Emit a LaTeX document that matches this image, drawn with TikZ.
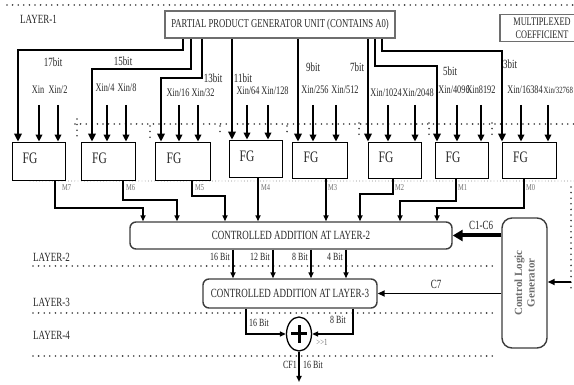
\documentclass[tikz,border=0pt]{standalone}
\usepackage{fontspec}
\setmainfont{Liberation Serif}[FakeStretch=0.72]
\newfontfamily\plainserif{Liberation Serif}
\usetikzlibrary{arrows.meta,shapes.geometric}
\definecolor{txt}{HTML}{262626}
\definecolor{dotc}{HTML}{3C3C3C}
\definecolor{lgray}{HTML}{6E6E6E}
\begin{document}
\begin{tikzpicture}[x=1pt,y=-1pt,
  every node/.style={text=txt, inner sep=0pt},
  dotline/.style={line width=1.8pt, dash pattern=on 0pt off 5.6pt, line cap=round, color=dotc},
  thindot/.style={line width=0.9pt, dash pattern=on 0pt off 3.2pt, line cap=round, color=lgray},
  bigline/.style={line width=2.9pt, -{Triangle[length=8pt,width=7.5pt]}},
  smallarr/.style={line width=2.3pt, -{Triangle[length=7pt,width=6.5pt]}},
  marr/.style={line width=1.5pt, -{Triangle[length=6pt,width=5pt]}},
  ppgbox/.style={draw=lgray, line width=1.8pt, font=\fontsize{12}{13}\selectfont},
  fgbox/.style={draw=black, line width=0.8pt, fill=white},
  fgtxt/.style={font=\fontsize{16}{17}\selectfont},
  addbox/.style={draw=dotc, line width=1.4pt, rounded corners=6pt, font=\fontsize{12.5}{13}\selectfont},
  layer/.style={anchor=west, font=\fontsize{12.5}{13}\selectfont},
  bitlbl/.style={font=\fontsize{12.5}{13}\selectfont},
  xinlbl/.style={font=\fontsize{11.5}{12}\selectfont},
  mlbl/.style={anchor=west, text=lgray, font=\fontsize{9}{10}\selectfont},
  blbl/.style={anchor=east, font=\fontsize{11}{12}\selectfont},
]
\useasboundingbox (0,0) rectangle (574,385);

% ---------- dotted layer lines ----------
\draw[dotline] (7,5) -- (574,5);
\draw[dotline] (75,124) -- (574,124);
\foreach \xx/\ya/\yb in {77/119/140,150/126/138,220/126/136,287/126/136,359/123/137,429/123/137,492/123/137}
  \draw[dotline] (\xx,\ya) -- (\xx,\yb);
\draw[thindot] (30,181) -- (574,181);
\draw[dotline] (33,266) -- (497,266);
\draw[dotline] (33,313) -- (497,313);
\draw[dotline] (33,356) -- (497,356);
\draw[dotline] (571,187) -- (571,290);

% ---------- layer labels ----------
\node[layer] (l1) at (20,19) {LAYER-1};
\node[layer] (l2) at (33,257) {LAYER-2};
\node[layer] (l3) at (33,302) {LAYER-3};
\node[layer] (l4) at (33,335) {LAYER-4};

% ---------- top boxes ----------
\node[ppgbox, minimum width=230pt, minimum height=27pt] (ppg) at (280,24.5) {PARTIAL PRODUCT GENERATOR UNIT (CONTAINS A0)};
\node[draw=lgray, line width=1.8pt, minimum width=90pt, minimum height=27pt] (mc) at (545,28) {};
\node[align=center, font=\fontsize{11.5}{13}\selectfont] (mct) at (542,28) {MULTIPLEXED\\COEFFICIENT};

% ---------- FG boxes ----------
\node[fgbox, minimum width=53pt, minimum height=38pt] (fg1) at (38.5,161) {};
\node[fgbox, minimum width=54pt, minimum height=38pt] (fg2) at (108,161) {};
\node[fgbox, minimum width=55pt, minimum height=38pt] (fg3) at (182.5,161) {};
\node[fgbox, minimum width=53pt, minimum height=37pt] (fg4) at (255.5,158.5) {};
\node[fgbox, minimum width=55pt, minimum height=36pt] (fg5) at (319.5,160) {};
\node[fgbox, minimum width=53pt, minimum height=36pt] (fg6) at (394.5,160) {};
\node[fgbox, minimum width=53pt, minimum height=36pt] (fg7) at (461.5,160) {};
\node[fgbox, minimum width=54pt, minimum height=36pt] (fg8) at (529,160) {};
\foreach \i in {1,...,8}
  \node[fgtxt] (fgt\i) at ([xshift=-8.5pt,yshift=2.5pt]fg\i.center) {FG};

% ---------- lines from the partial product generator ----------
\draw[bigline] (183,0 |- ppg.south) -- (183,50) -| (18,0 |- fg1.north);
\draw[bigline] (191,0 |- ppg.south) -- (191,69) -| (92,0 |- fg2.north);
\draw[bigline] (202,0 |- ppg.south) -- (202,78) -| (161,0 |- fg3.north);
\draw[bigline] (232,0 |- ppg.south) -- (232,0 |- fg4.north);
\draw[bigline] (298,0 |- ppg.south) -- (298,0 |- fg5.north);
\draw[bigline] (368,0 |- ppg.south) -- (368,0 |- fg6.north);
\draw[bigline] (375,0 |- ppg.south) -- (375,66) -| (437,0 |- fg7.north);
\draw[bigline] (382,0 |- ppg.south) -- (382,51) -| (502,0 |- fg8.north);

\node[bitlbl] (b17) at (53,62) {17bit};
\node[bitlbl] (b15) at (123,61) {15bit};
\node[bitlbl] (b13) at (213,78) {13bit};
\node[bitlbl] (b11) at (243,78) {11bit};
\node[bitlbl] (b9) at (313,67) {9bit};
\node[bitlbl] (b7) at (357,67) {7bit};
\node[bitlbl] (b5) at (450,71) {5bit};
\node[bitlbl] (b3) at (510,64) {3bit};

% ---------- Xin inputs ----------
\node[xinlbl] (x1a) at (38,90) {Xin};
\node[xinlbl] (x1b) at (58,90) {Xin/2};
\node[xinlbl] (x2a) at (105,88) {Xin/4};
\node[xinlbl] (x2b) at (127,88) {Xin/8};
\node[xinlbl] (x3a) at (178,93) {Xin/16};
\node[xinlbl] (x3b) at (203,93) {Xin/32};
\node[xinlbl] (x4a) at (248,91) {Xin/64};
\node[xinlbl] (x4b) at (275,91) {Xin/128};
\node[xinlbl] (x5a) at (315,90) {Xin/256};
\node[xinlbl] (x5b) at (345,90) {Xin/512};
\node[xinlbl] (x6a) at (386,93) {Xin/1024};
\node[xinlbl] (x6b) at (418,93) {Xin/2048};
\node[xinlbl] (x7a) at (454,90) {Xin/4096};
\node[xinlbl] (x7b) at (481,90) {Xin8192};
\node[xinlbl] (x8a) at (525,90) {Xin/16384};
\node[anchor=west, font=\fontsize{9.5}{11}\selectfont] (x8b) at (543.5,90) {Xin/32768};

\foreach \xx/\k in {39/1,58/1,107/2,126/2,179/3,198/3,247/4,268/4,313/5,336/5,388/6,415/6,457/7,481/7,521/8,548/8}
  \draw[smallarr] (\xx,105) -- (\xx,0 |- fg\k.north);

% ---------- addition layer 2 ----------
\node[addbox, minimum width=322pt, minimum height=27pt] (add2) at (291,235.5) {CONTROLLED ADDITION AT LAYER-2};

\draw[marr] (55,0 |- fg1.south) -- (55,208) -| (143,0 |- add2.north);
\draw[marr] (123,0 |- fg2.south) -- (123,200) -| (177,0 |- add2.north);
\draw[marr] (192,0 |- fg3.south) -- (192,196) -| (225,0 |- add2.north);
\draw[marr] (258,0 |- fg4.south) -- (258,0 |- add2.north);
\draw[marr] (326,0 |- fg5.south) -- (326,0 |- add2.north);
\draw[marr] (393,0 |- fg6.south) -- (393,194) -| (360,0 |- add2.north);
\draw[marr] (456,0 |- fg7.south) -- (456,201) -| (400,0 |- add2.north);
\draw[marr] (524,0 |- fg8.south) -- (524,208) -| (437,0 |- add2.north);

\node[mlbl] (m7) at (62,188) {M7};
\node[mlbl] (m6) at (126,188) {M6};
\node[mlbl] (m5) at (195,188) {M5};
\node[mlbl] (m4) at (261,188) {M4};
\node[mlbl] (m3) at (328,188) {M3};
\node[mlbl] (m2) at (395,188) {M2};
\node[mlbl] (m1) at (458,188) {M1};
\node[mlbl] (m0) at (526,188) {M0};

% ---------- control logic generator ----------
\node[draw=dotc, line width=1.4pt, rounded corners=10pt, minimum width=45pt, minimum height=130pt] (ctrl) at (524.5,283) {};
\node[rotate=90, align=center, text=lgray, font=\plainserif\bfseries\fontsize{11}{12.5}\selectfont] (ctrlt) at (ctrl.center) {Control Logic\\Generator};
\coordinate (cin) at (571,282);
\draw[line width=2pt, -{Triangle[length=7pt,width=6pt]}] (cin) -- (cin -| ctrl.east);

\draw[line width=4pt, -{Triangle[length=10pt,width=11pt]}] (ctrl.west |- add2.east) -- (add2.east);
\node[font=\fontsize{12.5}{13}\selectfont] (c16) at (481,225) {C1-C6};

% ---------- addition layer 3 ----------
\node[addbox, minimum width=174pt, minimum height=29pt] (add3) at (290,293.5) {CONTROLLED ADDITION AT LAYER-3};
\draw[line width=1.7pt, -{Triangle[length=7pt,width=6pt]}] (ctrl.west |- add3.east) -- (add3.east);
\node[font=\fontsize{12.5}{13}\selectfont] (c7) at (436,284) {C7};

\foreach \xx in {233,273,311,346}
  \draw[marr] (\xx,0 |- add2.south) -- (\xx,0 |- add3.north);
\node[blbl] (a16) at (230,257) {16 Bit};
\node[blbl] (a12) at (270,257) {12 Bit};
\node[blbl] (a8) at (308,257) {8 Bit};
\node[blbl] (a4) at (343,257) {4 Bit};

% ---------- final adder ----------
\node[draw=black, line width=1.3pt, ellipse, minimum width=25pt, minimum height=34pt] (sum) at (299,334) {};
\draw[line width=3pt] ([xshift=-8pt]sum.center) -- ([xshift=8pt]sum.center);
\draw[line width=3pt] ([yshift=-9pt]sum.center) -- ([yshift=9pt]sum.center);

\draw[marr] (246,0 |- add3.south) |- (sum.west);
\draw[marr] (353,0 |- add3.south) |- (sum.east);
\node[font=\fontsize{11}{12}\selectfont] (s16) at (259,323) {16 Bit};
\node[font=\fontsize{11}{12}\selectfont] (s8) at (338,320) {8 Bit};
\node[text=lgray, font=\fontsize{9.5}{10}\selectfont] (shr) at (322,342) {>{}>1};

\coordinate (out) at (299,382);
\draw[marr] (sum.south) -- (out);
\node[font=\fontsize{11}{12}\selectfont, anchor=east] (cf1) at (297,365) {CF1};
\node[font=\fontsize{11}{12}\selectfont, anchor=west] (o16) at (303,365) {16 Bit};
\end{tikzpicture}
\end{document}
